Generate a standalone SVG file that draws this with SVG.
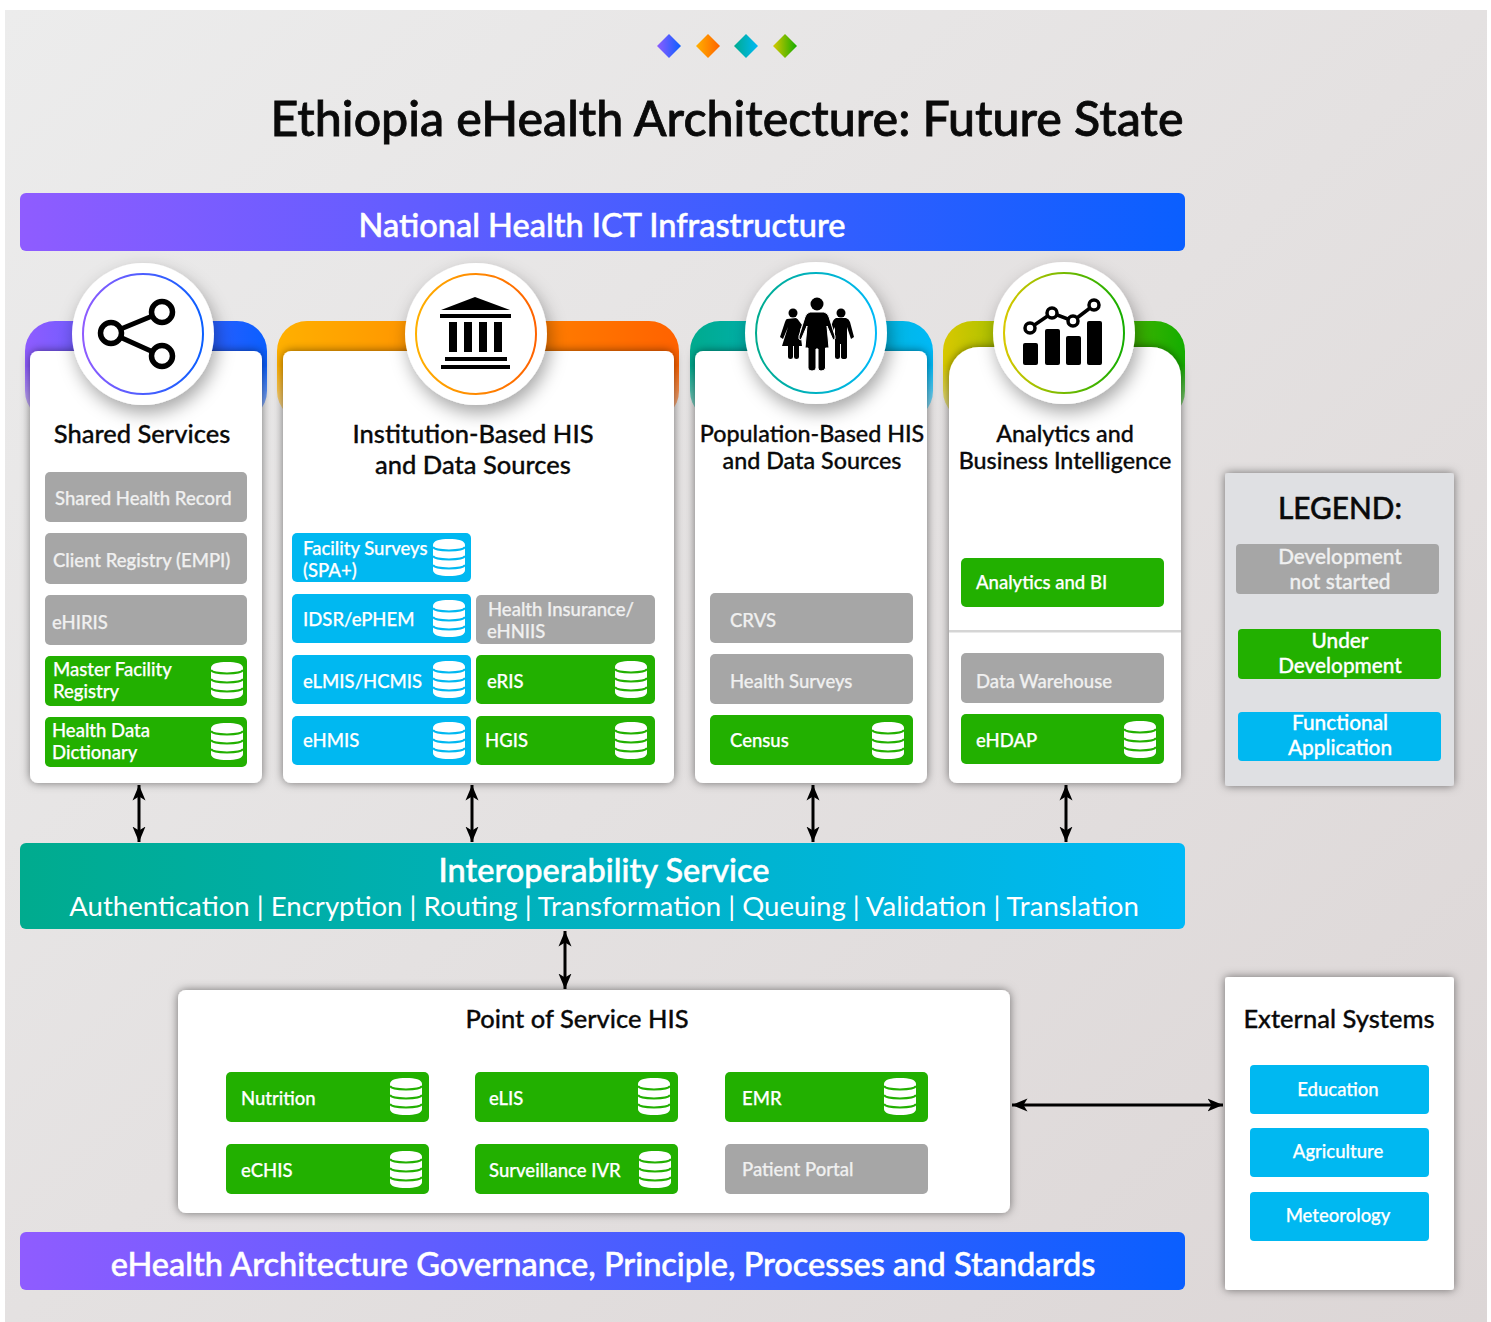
<svg xmlns="http://www.w3.org/2000/svg" xmlns:xlink="http://www.w3.org/1999/xlink" width="1491" height="1322" viewBox="0 0 1491 1322">
<style>
text{font-family:Lato,"Open Sans","Liberation Sans",sans-serif;}
.t{font-size:18.5px;font-weight:500;fill:#fff;stroke:#fff;stroke-width:.25px;}
.tg{font-size:18.5px;font-weight:500;fill:#f0f0f0;stroke:#f0f0f0;stroke-width:.25px;}
.h{font-size:25.5px;font-weight:500;fill:#0a0a0a;stroke:#0a0a0a;stroke-width:.3px;text-anchor:middle;}
.h2{font-size:23.3px;}
.l{font-size:20.8px;font-weight:500;fill:#fff;stroke:#fff;stroke-width:.3px;text-anchor:middle;}
.lg{font-size:20.8px;font-weight:500;fill:#f0f0f0;stroke:#f0f0f0;stroke-width:.3px;text-anchor:middle;}
.c{text-anchor:middle;}
.bar{font-size:32.5px;font-weight:500;fill:#fff;stroke:#fff;stroke-width:.5px;text-anchor:middle;}
.G{fill:#a6a6a6;}.N{fill:#22b000;color:#22b000;}.B{fill:#00b8f1;color:#00b8f1;}
.conn line{stroke:#000;stroke-width:3;marker-start:url(#arr);marker-end:url(#arr);}
.card{fill:#fff;filter:url(#sh);}
.disc{fill:#fff;filter:url(#sh2);}
</style>
<defs>
<linearGradient id="bg" x1="0" y1="0" x2="1" y2="1"><stop offset="0" stop-color="#ececec"/><stop offset="1" stop-color="#dcd6d6"/></linearGradient>
<linearGradient id="gP"><stop offset="0" stop-color="#8f5cff"/><stop offset="1" stop-color="#0a5fff"/></linearGradient>
<linearGradient id="gO"><stop offset="0" stop-color="#ffb000"/><stop offset="1" stop-color="#ff6200"/></linearGradient>
<linearGradient id="gT"><stop offset="0" stop-color="#00ab8e"/><stop offset="1" stop-color="#00b9f7"/></linearGradient>
<linearGradient id="gL"><stop offset="0" stop-color="#d8c800"/><stop offset="1" stop-color="#14ad00"/></linearGradient>
<linearGradient id="fade" x1="0" y1="0" x2="0" y2="1"><stop offset="0.45" stop-color="#fff"/><stop offset="1" stop-color="#fff" stop-opacity="0.25"/></linearGradient>
<mask id="mk" maskContentUnits="objectBoundingBox"><rect width="1" height="1" fill="url(#fade)"/></mask>
<filter id="sh" x="-10%" y="-10%" width="120%" height="120%"><feDropShadow dx="0" dy="0" stdDeviation="5" flood-color="#000" flood-opacity="0.5"/></filter>
<filter id="sh2" x="-30%" y="-30%" width="160%" height="160%"><feDropShadow dx="3" dy="8" stdDeviation="9" flood-color="#000" flood-opacity="0.35"/></filter>
<marker id="arr" viewBox="0 0 16 14" markerUnits="userSpaceOnUse" markerWidth="16" markerHeight="14" refX="15.500" refY="7" orient="auto-start-reverse"><path d="M0,0.5 L15.500,7 L0,13.500 L4,7 Z" fill="#000"/></marker>
<symbol id="db" viewBox="0 0 32 37" overflow="visible">
<path d="M0 6 C0 1.500 7 0 16 0 S32 1.500 32 6 V31 C32 35.500 25 37 16 37 S0 35.500 0 31 Z" fill="#fff"/>
<path d="M0 8 C2 12.500 30 12.500 32 8 M0 17 C2 21.500 30 21.500 32 17 M0 26 C2 30.500 30 30.500 32 26" fill="none" stroke="currentColor" stroke-width="2"/>
</symbol>
</defs>

<rect width="1491" height="1322" fill="#fff"/>
<rect x="5" y="10" width="1482" height="1312" fill="url(#bg)"/>

<g id="diamonds">
<path d="M669 34 l12 12 -12 12 -12 -12z" fill="url(#gP)"/>
<path d="M708 34 l12 12 -12 12 -12 -12z" fill="url(#gO)"/>
<path d="M746 34 l12 12 -12 12 -12 -12z" fill="url(#gT)"/>
<path d="M785 34 l12 12 -12 12 -12 -12z" fill="url(#gL)"/>
</g>
<text id="title" x="727" y="136" class="c" font-size="48.300" font-weight="500" fill="#0a0a0a" stroke="#0a0a0a" stroke-width="0.800">Ethiopia eHealth Architecture: Future State</text>

<g id="infra"><rect x="20" y="193" width="1165" height="58" rx="6" fill="url(#gP)"/><text x="602" y="237" class="bar">National Health ICT Infrastructure</text></g>

<g id="shared">
<rect x="25" y="321" width="242" height="100" rx="30" fill="url(#gP)" mask="url(#mk)"/>
<rect x="30" y="351" width="232" height="432" rx="8" class="card"/>
<circle cx="143" cy="334" r="71" class="disc"/>
<circle cx="143" cy="334" r="60" fill="none" stroke="url(#gP)" stroke-width="2"/>
<path d="M162 312 L111 333 L162 356" fill="none" stroke="#000" stroke-width="5"/>
<g fill="#fff" stroke="#000" stroke-width="5.500"><circle cx="162" cy="312" r="10.500"/><circle cx="111" cy="333" r="10.500"/><circle cx="162" cy="356" r="10.500"/></g>
<text x="142" y="443" class="h">Shared Services</text>
<rect class="G" x="45" y="472" width="202" height="50" rx="5"/><text class="tg" x="55" y="505">Shared Health Record</text>
<rect class="G" x="45" y="533" width="202" height="51" rx="5"/><text class="tg" x="53" y="567">Client Registry (EMPI)</text>
<rect class="G" x="45" y="595" width="202" height="50" rx="5"/><text class="tg" x="52" y="629">eHIRIS</text>
<g color="#22b000"><rect class="N" x="45" y="656" width="202" height="50" rx="5"/><text class="t" x="53" y="676">Master Facility</text><text class="t" x="53" y="698">Registry</text><use href="#db" x="211" y="662" width="32" height="37"/></g>
<g color="#22b000"><rect class="N" x="45" y="717" width="202" height="50" rx="5"/><text class="t" x="52" y="737">Health Data</text><text class="t" x="52" y="759">Dictionary</text><use href="#db" x="211" y="723" width="32" height="37"/></g>
</g>

<g id="institution">
<rect x="277" y="321" width="402" height="100" rx="30" fill="url(#gO)" mask="url(#mk)"/>
<rect x="283" y="351" width="391" height="432" rx="8" class="card"/>
<circle cx="476" cy="334" r="71" class="disc"/>
<circle cx="476" cy="334" r="60" fill="none" stroke="url(#gO)" stroke-width="2"/>
<path d="M475 297 L510 310 H441 Z M440 314 H511 V318 H440 Z M449 322 h8 v30 h-8z M464 322 h8 v30 h-8z M479 322 h8 v30 h-8z M494 322 h8 v30 h-8z M445 357 H507 V361 H445 Z M441 365 H510 V369 H441 Z" fill="#000"/>
<text x="473" y="443" class="h">Institution-Based HIS</text><text x="473" y="474" class="h">and Data Sources</text>
<g color="#00b8f1">
<rect class="B" x="292" y="533" width="179" height="49" rx="5"/><text class="t" x="303" y="555">Facility Surveys</text><text class="t" x="303" y="577">(SPA+)</text><use href="#db" x="433" y="539" width="32" height="37"/>
<rect class="B" x="292" y="594" width="179" height="49" rx="5"/><text class="t" x="303" y="626">IDSR/ePHEM</text><use href="#db" x="433" y="600" width="32" height="37"/>
<rect class="B" x="292" y="655" width="179" height="49" rx="5"/><text class="t" x="303" y="688">eLMIS/HCMIS</text><use href="#db" x="433" y="661" width="32" height="37"/>
<rect class="B" x="292" y="716" width="179" height="49" rx="5"/><text class="t" x="303" y="747">eHMIS</text><use href="#db" x="433" y="722" width="32" height="37"/>
</g>
<rect class="G" x="476" y="595" width="179" height="49" rx="5"/><text class="tg" x="488" y="616">Health Insurance/</text><text class="tg" x="487" y="638">eHNIIS</text>
<g color="#22b000">
<rect class="N" x="476" y="655" width="179" height="49" rx="5"/><text class="t" x="487" y="688">eRIS</text><use href="#db" x="615" y="661" width="32" height="37"/>
<rect class="N" x="476" y="716" width="179" height="49" rx="5"/><text class="t" x="485" y="747">HGIS</text><use href="#db" x="615" y="722" width="32" height="37"/>
</g>
</g>

<g id="population">
<rect x="690" y="321" width="243" height="100" rx="30" fill="url(#gT)" mask="url(#mk)"/>
<rect x="695" y="351" width="232" height="432" rx="8" class="card"/>
<circle cx="816" cy="333" r="71" class="disc"/>
<circle cx="816" cy="333" r="60" fill="none" stroke="url(#gT)" stroke-width="2"/>
<g fill="#000">
<circle cx="817" cy="304" r="6.500"/><circle cx="793" cy="313" r="4.500"/><circle cx="841" cy="313" r="4.500"/>
<path d="M787 319 Q786 319 785 322 L780 337 L783 339 L788 327 L782 346 H788 V357 Q788 359 790.500 359 Q793 359 793 357 V346 H794 V357 Q794 359 796.500 359 Q799 359 799 357 V346 H802 L800 330 L802 325 L799 321 Q798 319 796 318 Z"/>
<path d="M836 318 H846 Q849 319 850 322 L854 337 L851 339 L847 327 V357 Q847 359 844 359 Q841 359 841 357 V344 H840 V357 Q840 359 837.500 359 Q835 359 835 357 V327 L833 331 L831 327 L833 321 Q834 319 836 318 Z"/>
<path d="M810 312 H824 Q828 313 829 317 L835 336 Q836 340 833 340 L827 326 L829 348 H825.500 V368 Q825 371 821 371 Q818 371 818 368 V349 H816 V368 Q816 371 812 371 Q808 371 808 368 V348 H805 L807 326 L801 340 Q798 340 799 336 L805 317 Q806 313 810 312 Z" stroke="#fff" stroke-width="1"/>
</g>
<text x="812" y="442" class="h h2">Population-Based HIS</text><text x="812" y="469" class="h h2">and Data Sources</text>
<rect class="G" x="710" y="593" width="203" height="50" rx="5"/><text class="tg" x="730" y="627">CRVS</text>
<rect class="G" x="710" y="654" width="203" height="50" rx="5"/><text class="tg" x="730" y="688">Health Surveys</text>
<g color="#22b000"><rect class="N" x="710" y="715" width="203" height="50" rx="5"/><text class="t" x="730" y="747">Census</text><use href="#db" x="872" y="722" width="32" height="37"/></g>
</g>

<g id="analytics">
<rect x="943" y="321" width="242" height="100" rx="30" fill="url(#gL)" mask="url(#mk)"/>
<path d="M949 377 a30 30 0 0 1 30 -30 H1151 a30 30 0 0 1 30 30 V775 a8 8 0 0 1 -8 8 H957 a8 8 0 0 1 -8 -8 Z" class="card"/>
<rect x="949" y="630" width="232" height="2.500" fill="#d5d5d5"/>
<circle cx="1064" cy="333" r="71" class="disc"/>
<circle cx="1064" cy="333" r="60" fill="none" stroke="url(#gL)" stroke-width="2"/>
<g fill="#000"><rect x="1023" y="343" width="15" height="22" rx="2"/><rect x="1045" y="329" width="15" height="36" rx="2"/><rect x="1066" y="336" width="15" height="29" rx="2"/><rect x="1087" y="321" width="15" height="44" rx="2"/></g>
<path d="M1030 328 L1052 313 L1073 321 L1094 305" fill="none" stroke="#000" stroke-width="3.500"/>
<g fill="#fff" stroke="#000" stroke-width="3.500"><circle cx="1030" cy="328" r="5"/><circle cx="1052" cy="313" r="5"/><circle cx="1073" cy="321" r="5"/><circle cx="1094" cy="305" r="5"/></g>
<text x="1065" y="442" class="h h2">Analytics and</text><text x="1065" y="469" class="h h2">Business Intelligence</text>
<rect class="N" x="961" y="558" width="203" height="49" rx="5"/><text class="t" x="976" y="589">Analytics and BI</text>
<rect class="G" x="961" y="653" width="203" height="50" rx="5"/><text class="tg" x="976" y="688">Data Warehouse</text>
<g color="#22b000"><rect class="N" x="961" y="714" width="203" height="50" rx="5"/><text class="t" x="976" y="747">eHDAP</text><use href="#db" x="1124" y="721" width="32" height="37"/></g>
</g>

<g id="legend">
<rect x="1225" y="473" width="229" height="313" rx="3" fill="#dfe0e3" filter="url(#sh)"/>
<text x="1340" y="519" class="c" font-size="29.800" font-weight="500" fill="#0a0a0a" stroke="#0a0a0a" stroke-width="0.500">LEGEND:</text>
<rect class="G" x="1236" y="544" width="203" height="50" rx="4"/><text class="lg" x="1340" y="564">Development</text><text class="lg" x="1340" y="589">not started</text>
<rect class="N" x="1238" y="629" width="203" height="50" rx="4"/><text class="l" x="1340" y="648">Under</text><text class="l" x="1340" y="673">Development</text>
<rect class="B" x="1238" y="712" width="203" height="49" rx="4"/><text class="l" x="1340" y="730">Functional</text><text class="l" x="1340" y="755">Application</text>
</g>

<g id="interop"><rect x="20" y="843" width="1165" height="86" rx="6" fill="url(#gT)"/><text x="604" y="882" class="bar">Interoperability Service</text><text x="604" y="916" class="c" font-size="27.600" fill="#fff">Authentication | Encryption | Routing | Transformation | Queuing | Validation | Translation</text></g>

<g id="pos">
<rect x="178" y="990" width="832" height="223" rx="8" class="card"/>
<text x="577" y="1028" class="h">Point of Service HIS</text>
<g color="#22b000">
<rect class="N" x="226" y="1072" width="203" height="50" rx="5"/><text class="t" x="241" y="1105">Nutrition</text><use href="#db" x="390" y="1078" width="32" height="37"/>
<rect class="N" x="475" y="1072" width="203" height="50" rx="5"/><text class="t" x="489" y="1105">eLIS</text><use href="#db" x="638" y="1078" width="32" height="37"/>
<rect class="N" x="725" y="1072" width="203" height="50" rx="5"/><text class="t" x="742" y="1105">EMR</text><use href="#db" x="884" y="1078" width="32" height="37"/>
<rect class="N" x="226" y="1144" width="203" height="50" rx="5"/><text class="t" x="241" y="1177">eCHIS</text><use href="#db" x="390" y="1151" width="32" height="37"/>
<rect class="N" x="475" y="1144" width="203" height="50" rx="5"/><text class="t" x="489" y="1177">Surveillance IVR</text><use href="#db" x="639" y="1151" width="32" height="37"/>
</g>
<rect class="G" x="725" y="1144" width="203" height="50" rx="5"/><text class="tg" x="742" y="1176">Patient Portal</text>
</g>

<g id="external">
<rect x="1225" y="977" width="229" height="313" rx="3" class="card"/>
<text x="1339" y="1028" class="h">External Systems</text>
<rect class="B" x="1250" y="1065" width="179" height="49" rx="4"/><text class="t c" x="1338" y="1096">Education</text>
<rect class="B" x="1250" y="1128" width="179" height="49" rx="4"/><text class="t c" x="1338" y="1158">Agriculture</text>
<rect class="B" x="1250" y="1192" width="179" height="49" rx="4"/><text class="t c" x="1338" y="1222">Meteorology</text>
</g>

<g id="governance"><rect x="20" y="1232" width="1165" height="58" rx="6" fill="url(#gP)"/><text x="603" y="1276" class="bar">eHealth Architecture Governance, Principle, Processes and Standards</text></g>

<g id="connectors" class="conn">
<line x1="139" y1="785" x2="139" y2="842"/>
<line x1="472" y1="785" x2="472" y2="842"/>
<line x1="813" y1="785" x2="813" y2="842"/>
<line x1="1066" y1="785" x2="1066" y2="842"/>
<line x1="565" y1="931" x2="565" y2="989"/>
<line x1="1012" y1="1105" x2="1223" y2="1105"/>
</g>
</svg>
